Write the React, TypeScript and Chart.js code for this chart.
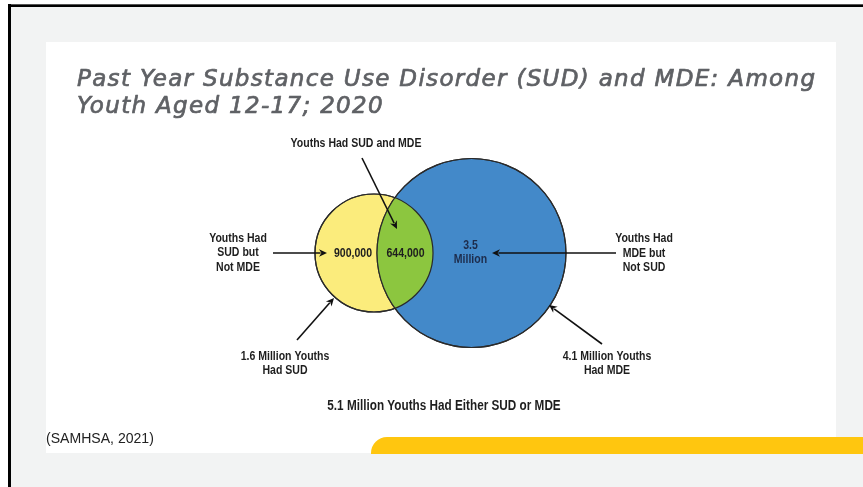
import React, { useEffect, useRef } from "react";
import { Chart, registerables } from "chart.js";

Chart.register(...registerables);

// ---- data ----
const titleLines = [
  "Past Year Substance Use Disorder (SUD) and MDE: Among",
  "Youth Aged 12-17; 2020",
];
const setNames = ["SUD", "MDE"];
const setTotalsMillions = [1.6, 4.1];
const overlapMillions = 0.644;
const regionLabels = ["900,000", "644,000", "3.5", "Million"];
const topCallout = ["Youths Had SUD and MDE"];
const leftCallout = ["Youths Had", "SUD but", "Not MDE"];
const rightCallout = ["Youths Had", "MDE but", "Not SUD"];
const sudTotalLabel = ["1.6 Million Youths", "Had SUD"];
const mdeTotalLabel = ["4.1 Million Youths", "Had MDE"];
const unionLabel = "5.1 Million Youths Had Either SUD or MDE";
const sourceLabel = "(SAMHSA, 2021)";

// ---- style ----
const W = 863;
const H = 487;
const PX_PER_UNIT = 82.7;
const SUD_CENTER_PX = [374, 253];
const COLORS = {
  sud: "#fbec7c",
  mde: "#4389c9",
  both: "#8cc63f",
  outline: "#2a2a2a",
  text: "#1e1e1e",
  navy: "#1d2c4c",
  title: "#5f6165",
  slideBg: "#f2f3f3",
  card: "#ffffff",
  accent: "#ffc60f",
};

const radiusOf = (area: number) => Math.sqrt(area / Math.PI);

function lensArea(r1: number, r2: number, d: number) {
  if (d >= r1 + r2) return 0;
  if (d <= Math.abs(r1 - r2)) return Math.PI * Math.min(r1, r2) ** 2;
  const a1 = Math.acos((d * d + r1 * r1 - r2 * r2) / (2 * d * r1));
  const a2 = Math.acos((d * d + r2 * r2 - r1 * r1) / (2 * d * r2));
  const k = Math.sqrt((-d + r1 + r2) * (d + r1 - r2) * (d - r1 + r2) * (d + r1 + r2));
  return r1 * r1 * a1 + r2 * r2 * a2 - 0.5 * k;
}

function centerDistance(a1: number, a2: number, overlap: number) {
  const r1 = radiusOf(a1);
  const r2 = radiusOf(a2);
  let lo = Math.abs(r1 - r2);
  let hi = r1 + r2;
  for (let i = 0; i < 80; i++) {
    const mid = (lo + hi) / 2;
    if (lensArea(r1, r2, mid) > overlap) lo = mid;
    else hi = mid;
  }
  return (lo + hi) / 2;
}

const FONT = '"Liberation Sans", Arial, sans-serif';

function txt(
  ctx: CanvasRenderingContext2D,
  s: string,
  x: number,
  y: number,
  size: number,
  color: string,
  opts: { weight?: string; sx?: number; align?: CanvasTextAlign } = {}
) {
  ctx.save();
  ctx.translate(x, y);
  ctx.scale(opts.sx ?? 0.78, 1);
  ctx.font = `${opts.weight ?? "bold"} ${size}px ${FONT}`;
  ctx.fillStyle = color;
  ctx.textAlign = opts.align ?? "center";
  ctx.textBaseline = "middle";
  ctx.fillText(s, 0, 0);
  ctx.restore();
}

function lines(ctx: CanvasRenderingContext2D, arr: string[], x: number, y: number, gap: number, color = COLORS.text) {
  arr.forEach((s, i) => txt(ctx, s, x, y + i * gap, 13.5, color));
}

function arrow(ctx: CanvasRenderingContext2D, x1: number, y1: number, x2: number, y2: number) {
  const ang = Math.atan2(y2 - y1, x2 - x1);
  const hl = 8;
  const hw = 3.8;
  ctx.save();
  ctx.strokeStyle = "#111";
  ctx.fillStyle = "#111";
  ctx.lineWidth = 1.6;
  ctx.beginPath();
  ctx.moveTo(x1, y1);
  ctx.lineTo(x2 - Math.cos(ang) * hl * 0.8, y2 - Math.sin(ang) * hl * 0.8);
  ctx.stroke();
  ctx.beginPath();
  ctx.moveTo(x2, y2);
  ctx.lineTo(x2 - Math.cos(ang) * hl - Math.sin(ang) * hw, y2 - Math.sin(ang) * hl + Math.cos(ang) * hw);
  ctx.lineTo(x2 - Math.cos(ang) * hl * 0.7, y2 - Math.sin(ang) * hl * 0.7);
  ctx.lineTo(x2 - Math.cos(ang) * hl + Math.sin(ang) * hw, y2 - Math.sin(ang) * hl - Math.cos(ang) * hw);
  ctx.closePath();
  ctx.fill();
  ctx.restore();
}

function circlePx(chart: any, i: number) {
  const meta = chart.getDatasetMeta(i);
  const el = meta.data[0];
  const xs = chart.scales.x;
  const r = xs.getPixelForValue(radiusOf(setTotalsMillions[i])) - xs.getPixelForValue(0);
  return { x: el.x, y: el.y, r };
}

const slidePlugin = {
  id: "slide",
  beforeDraw(chart: any) {
    const ctx: CanvasRenderingContext2D = chart.ctx;
    ctx.save();
    ctx.fillStyle = "#ffffff";
    ctx.fillRect(0, 0, W, H);
    ctx.fillStyle = COLORS.slideBg;
    ctx.fillRect(8, 4, W - 8, H - 4);
    // frame
    ctx.fillStyle = "#555";
    ctx.fillRect(8, 4, W - 8, 1.5);
    ctx.fillStyle = "#000";
    ctx.fillRect(8, 5, W - 8, 2);
    ctx.fillRect(8, 4, 3, H - 4);
    // card
    ctx.fillStyle = COLORS.card;
    ctx.fillRect(46, 42, 790, 411);
    // accent band
    ctx.fillStyle = COLORS.accent;
    const bx = 371, by = 437, bh = 17, rr = 16;
    ctx.beginPath();
    ctx.moveTo(bx, by + bh);
    ctx.lineTo(bx, by + rr);
    ctx.arcTo(bx, by, bx + rr, by, rr);
    ctx.lineTo(W, by);
    ctx.lineTo(W, by + bh);
    ctx.closePath();
    ctx.fill();
    // title
    ctx.fillStyle = COLORS.title;
    ctx.strokeStyle = COLORS.title;
    ctx.lineWidth = 0.7;
    ctx.lineJoin = "round";
    ctx.font = `oblique 23px "DejaVu Sans", sans-serif`;
    ctx.textAlign = "left";
    ctx.textBaseline = "alphabetic";
    const targetW = 738;
    (ctx as any).letterSpacing = "0px";
    const mw = ctx.measureText(titleLines[0]).width;
    const ls = (targetW - mw) / (titleLines[0].length - 1);
    (ctx as any).letterSpacing = `${ls}px`;
    titleLines.forEach((s, i) => {
      ctx.fillText(s, 77, 86 + i * 26.5);
      ctx.strokeText(s, 77, 86 + i * 26.5);
    });
    (ctx as any).letterSpacing = "0px";
    // source
    txt(ctx, sourceLabel, 46, 439, 14.5, "#222", { weight: "normal", sx: 0.97, align: "left" });
    ctx.restore();
  },
  afterDatasetsDraw(chart: any) {
    const ctx: CanvasRenderingContext2D = chart.ctx;
    const a = circlePx(chart, 0);
    const b = circlePx(chart, 1);
    ctx.save();
    // intersection
    ctx.beginPath();
    ctx.arc(a.x, a.y, a.r, 0, Math.PI * 2);
    ctx.clip();
    ctx.beginPath();
    ctx.arc(b.x, b.y, b.r, 0, Math.PI * 2);
    ctx.fillStyle = COLORS.both;
    ctx.fill();
    ctx.restore();
    ctx.save();
    ctx.strokeStyle = COLORS.outline;
    ctx.lineWidth = 1.2;
    [a, b].forEach((c) => {
      ctx.beginPath();
      ctx.arc(c.x, c.y, c.r, 0, Math.PI * 2);
      ctx.stroke();
    });
    ctx.restore();

    // region values
    txt(ctx, regionLabels[0], a.x - 21, a.y, 13.5, COLORS.text);
    txt(ctx, regionLabels[1], a.x + 31.5, a.y, 13.5, COLORS.text);
    txt(ctx, regionLabels[2], b.x - 1, b.y - 8, 13.5, COLORS.navy);
    txt(ctx, regionLabels[3], b.x - 1, b.y + 6, 13.5, COLORS.navy);

    // callouts
    lines(ctx, topCallout, 356, 143, 14.5);
    arrow(ctx, 362, 158, 397, 229);
    lines(ctx, leftCallout, 238, 238, 14.5);
    arrow(ctx, 273, a.y, 327, a.y);
    lines(ctx, rightCallout, 644, 238.5, 14.5);
    arrow(ctx, 616, b.y, 492, b.y);
    lines(ctx, sudTotalLabel, 285, 356, 14.5);
    arrow(ctx, 297, 340, 334, 298);
    lines(ctx, mdeTotalLabel, 607, 356, 14.5);
    arrow(ctx, 602, 344, 549, 305);
    txt(ctx, unionLabel, 444, 406, 14.5, COLORS.text, { sx: 0.81 });
  },
};

export default function App() {
  const ref = useRef<HTMLCanvasElement>(null);
  useEffect(() => {
    if (!ref.current) return;
    const d = centerDistance(setTotalsMillions[0], setTotalsMillions[1], overlapMillions);
    const xMin = -SUD_CENTER_PX[0] / PX_PER_UNIT;
    const xMax = (W - SUD_CENTER_PX[0]) / PX_PER_UNIT;
    const yMax = SUD_CENTER_PX[1] / PX_PER_UNIT;
    const yMin = -(H - SUD_CENTER_PX[1]) / PX_PER_UNIT;
    const radiusFn = (i: number) => (ctx: any) => {
      const xs = ctx.chart.scales.x;
      if (!xs) return 0;
      return xs.getPixelForValue(radiusOf(setTotalsMillions[i])) - xs.getPixelForValue(0);
    };
    const chart = new Chart(ref.current, {
      type: "scatter",
      data: {
        datasets: [
          {
            label: setNames[0],
            data: [{ x: 0, y: 0 }],
            pointRadius: radiusFn(0),
            pointHoverRadius: radiusFn(0),
            backgroundColor: COLORS.sud,
            borderColor: COLORS.outline,
            borderWidth: 1.2,
            order: 1,
          },
          {
            label: setNames[1],
            data: [{ x: d, y: 0 }],
            pointRadius: radiusFn(1),
            pointHoverRadius: radiusFn(1),
            backgroundColor: COLORS.mde,
            borderColor: COLORS.outline,
            borderWidth: 1.2,
            order: 0,
          },
        ],
      },
      options: {
        responsive: false,
        animation: false,
        events: [],
        layout: { padding: 0 },
        plugins: { legend: { display: false }, tooltip: { enabled: false }, title: { display: false } },
        scales: {
          x: { type: "linear", display: false, min: xMin, max: xMax },
          y: { type: "linear", display: false, min: yMin, max: yMax },
        },
      } as any,
      plugins: [slidePlugin],
    });
    return () => chart.destroy();
  }, []);
  return (
    <div style={{ position: "fixed", left: 0, top: 0, width: W, height: H }}>
      <canvas ref={ref} width={W} height={H} style={{ display: "block", width: W, height: H }} />
    </div>
  );
}
